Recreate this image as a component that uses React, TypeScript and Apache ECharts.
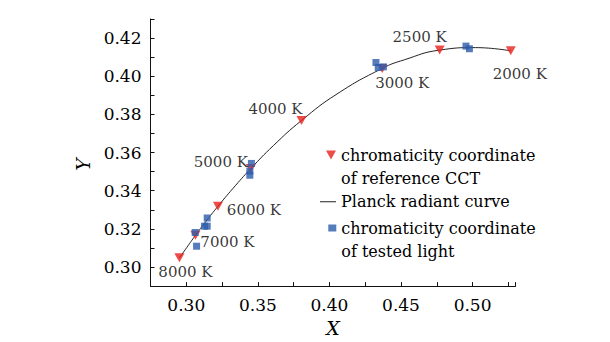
import React, { useEffect, useRef } from "react";
import * as echarts from "echarts";

// Reference CCT points on the Planckian locus
const cctNames = ["8000 K", "7000 K", "6000 K", "5000 K", "4000 K", "3000 K", "2500 K", "2000 K"];
const cctX = [0.2952, 0.3064, 0.3221, 0.3451, 0.3805, 0.4369, 0.477, 0.5267];
const cctY = [0.3048, 0.3166, 0.3318, 0.3516, 0.3768, 0.4041, 0.4137, 0.4133];

// Planck radiant curve (locus points)
const planckX = [0.2952, 0.3004, 0.3064, 0.3135, 0.3221, 0.3325, 0.3451, 0.3608, 0.3805, 0.4053, 0.4369, 0.4523, 0.477, 0.502, 0.5267];
const planckY = [0.3048, 0.3103, 0.3166, 0.3237, 0.3318, 0.3411, 0.3516, 0.3636, 0.3768, 0.3907, 0.4041, 0.4086, 0.4137, 0.415, 0.4133];

// Tested light chromaticity coordinates
const testX = [0.3062, 0.3072, 0.3127, 0.3146, 0.3146, 0.3444, 0.3444, 0.3455, 0.4325, 0.4341, 0.4377, 0.4954, 0.4978];
const testY = [0.3181, 0.3109, 0.3214, 0.3214, 0.3257, 0.3481, 0.3503, 0.3543, 0.4072, 0.4046, 0.4049, 0.4158, 0.4144];

const legendNames = [
  "chromaticity coordinate of reference CCT",
  "Planck radiant curve",
  "chromaticity coordinate of tested light",
];

// label placement (pixel offsets from each CCT marker) – layout only
const labelOffsets = [
  [6, 14],
  [32, 7],
  [36, 4],
  [-30, -7],
  [-26, -11],
  [20, 15],
  [-20, -13],
  [9, 23],
];

const FONT = "DejaVu Serif";

// legend icons (padded with invisible points so the icon sits on the first text line)
const ICON_TRI = "path://M0,0L0.01,0Z M0,7L10,7L5,16Z M0,46L0.01,46Z";
const ICON_SQ = "path://M0,0L0.01,0Z M0,8L8,8L8,15L0,15Z M0,46L0.01,46Z";
const ICON_LINE = "path://M0,0L0.01,0Z M0,6.5L16,6.5L16,7.5L0,7.5Z M0,14L0.01,14Z";

export default function App() {
  const ref = useRef<HTMLDivElement>(null);
  useEffect(() => {
    if (!ref.current) return;
    const chart = echarts.init(ref.current, null, { renderer: "svg" });
    const isMajor = (v: number, step: number) => Math.abs(v / step - Math.round(v / step)) < 1e-6;
    const legendText = { fontFamily: FONT, fontSize: 16, color: "#000", lineHeight: 23 };
    const option: any = {
      animation: false,
      backgroundColor: "#ffffff",
      textStyle: { fontFamily: FONT },
      grid: { left: 150.5, right: 94.5, top: 19, bottom: 52.5, containLabel: false },
      xAxis: {
        type: "value",
        min: 0.275,
        max: 0.53,
        interval: 0.025,
        name: "X",
        nameLocation: "middle",
        nameGap: 30,
        nameTextStyle: { fontFamily: FONT, fontStyle: "italic", fontSize: 19, color: "#000" },
        axisLine: { show: true, onZero: false, lineStyle: { color: "#111", width: 1 } },
        axisTick: { show: true, inside: true, length: 4, lineStyle: { color: "#111" } },
        splitLine: { show: false },
        axisLabel: {
          margin: 10,
          fontFamily: FONT,
          fontSize: 17,
          color: "#000",
          formatter: (v: number) => (isMajor(v, 0.05) ? v.toFixed(2) : ""),
        },
      },
      yAxis: {
        type: "value",
        min: 0.29,
        max: 0.43,
        interval: 0.01,
        name: "Y",
        nameLocation: "middle",
        nameRotate: 90,
        nameGap: 53,
        nameTextStyle: { fontFamily: FONT, fontStyle: "italic", fontSize: 19, color: "#000", padding: [0, 24, 0, 0] },
        axisLine: { show: true, onZero: false, lineStyle: { color: "#111", width: 1 } },
        axisTick: { show: true, inside: true, length: 4, lineStyle: { color: "#111" } },
        splitLine: { show: false },
        axisLabel: {
          margin: 9,
          fontFamily: FONT,
          fontSize: 17,
          color: "#000",
          formatter: (v: number) => (isMajor(v, 0.02) ? v.toFixed(2) : ""),
        },
      },
      legend: [
        {
          data: [{ name: legendNames[0], icon: ICON_TRI }],
          left: 326,
          top: 143.5,
          padding: 0,
          itemWidth: 10,
          itemHeight: 46,
          formatter: () => "chromaticity coordinate\nof reference CCT",
          textStyle: legendText,
        },
        {
          data: [{ name: legendNames[1], icon: ICON_LINE }],
          left: 320,
          top: 190.2,
          padding: 0,
          itemWidth: 16,
          itemHeight: 14,
          textStyle: legendText,
        },
        {
          data: [{ name: legendNames[2], icon: ICON_SQ }],
          left: 328.3,
          top: 216.5,
          padding: 0,
          itemWidth: 8,
          itemHeight: 46,
          formatter: () => "chromaticity coordinate\nof tested light",
          textStyle: legendText,
        },
      ],
      series: [
        {
          name: legendNames[1],
          type: "line",
          smooth: true,
          symbol: "none",
          showSymbol: false,
          lineStyle: { color: "#222", width: 1 },
          itemStyle: { color: "#222" },
          data: planckX.map((x, i) => [x, planckY[i]]),
          z: 2,
        },
        {
          name: legendNames[0],
          type: "scatter",
          symbol: "triangle",
          symbolRotate: 180,
          symbolSize: [10, 9],
          itemStyle: { color: "#e8211c" },
          data: cctX.map((x, i) => ({
            name: cctNames[i],
            value: [x, cctY[i]],
            label: { offset: labelOffsets[i] },
          })),
          label: {
            show: true,
            position: "inside",
            formatter: (p: any) => p.name,
            fontFamily: FONT,
            fontSize: 15,
            color: "#000",
          },
          z: 3,
        },
        {
          name: legendNames[2],
          type: "scatter",
          symbol: "rect",
          symbolSize: 7,
          itemStyle: { color: "#2d5bab" },
          data: testX.map((x, i) => [x, testY[i]]),
          z: 4,
        },
      ],
    };
    chart.setOption(option);
    return () => chart.dispose();
  }, []);
  return (
    <div
      ref={ref}
      style={{ position: "fixed", left: 0, top: 0, width: 610, height: 342 }}
    />
  );
}
